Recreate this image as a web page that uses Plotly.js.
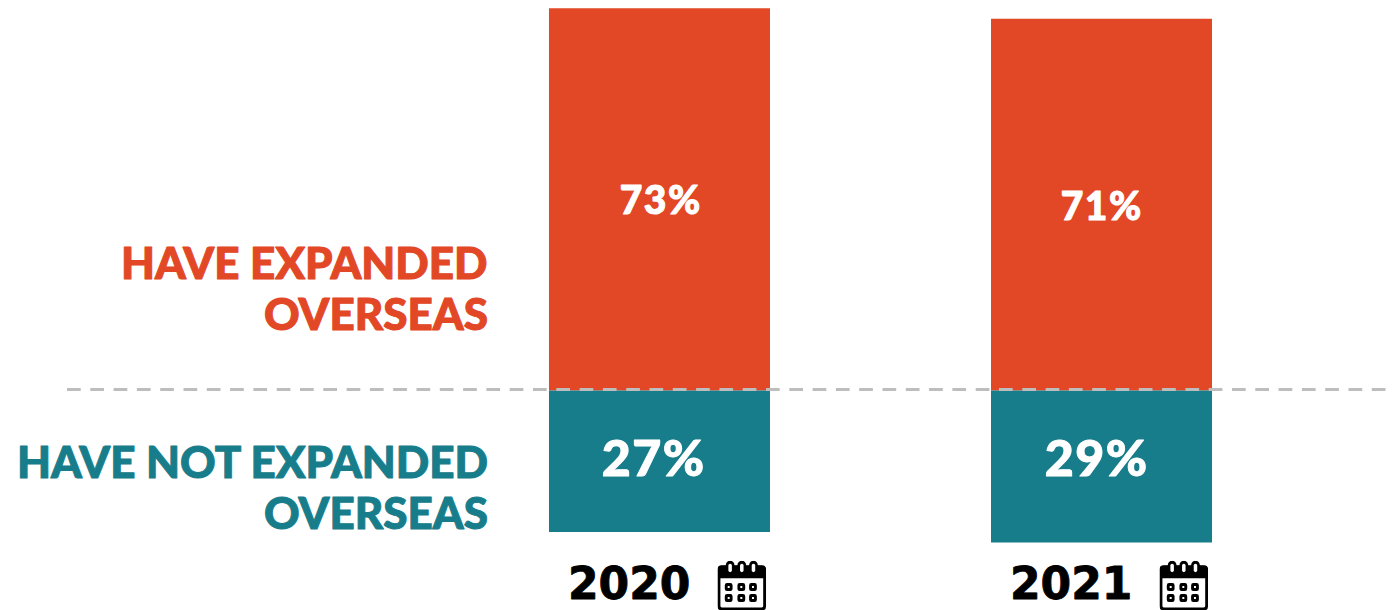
<!DOCTYPE html>
<html>
<head>
<meta charset="utf-8">
<script src="https://cdn.plot.ly/plotly-3.0.1.min.js"></script>
<style>
html,body{margin:0;padding:0;background:#fff;overflow:hidden}
/* Heavier strokes on the labels, since the installed faces stop short of black weight */
.annotation-text{stroke-linejoin:round;paint-order:stroke}
</style>
</head>
<body>
<div id="chart" style="width:1395px;height:610px"></div>
<script>
// Share of respondents per survey year
const years = ["2020", "2021"];
const expanded = [73, 71];
const notExpanded = [27, 29];
const expandedLines = ["HAVE EXPANDED", "OVERSEAS"];
const notExpandedLines = ["HAVE NOT EXPANDED", "OVERSEAS"];

const RED = "#e24726";
const TEAL = "#187d8a";
const LABEL_FONT = "Lato";

// Wall-calendar pictogram placed beside each year
const calendarSvg = `<svg xmlns="http://www.w3.org/2000/svg" viewBox="0 0 50 50">
<path d="M4.5 6 H45.5 Q48.5 6 48.5 9 V45.5 Q48.5 48.5 45.5 48.5 H4.5 Q1.5 48.5 1.5 45.5 V9 Q1.5 6 4.5 6 Z" fill="#fff" stroke="#000" stroke-width="3"/>
<path d="M4 5 H46 Q49.5 5 49.5 8.5 V17.5 H0.5 V8.5 Q0.5 5 4 5 Z" fill="#000"/>
<g fill="#000">
<rect x="8.5" y="0" width="9" height="12" rx="4.5"/>
<rect x="20.5" y="0" width="9" height="12" rx="4.5"/>
<rect x="32.5" y="0" width="9" height="12" rx="4.5"/>
</g>
<g fill="#fff">
<rect x="11.2" y="3" width="3.6" height="8.5" rx="1.8"/>
<rect x="23.2" y="3" width="3.6" height="8.5" rx="1.8"/>
<rect x="35.2" y="3" width="3.6" height="8.5" rx="1.8"/>
</g>
<g fill="none" stroke="#000" stroke-width="3">
<rect x="9" y="24" width="5" height="5" rx="0.8"/><rect x="22" y="24" width="5" height="5" rx="0.8"/><rect x="34" y="24" width="5" height="5" rx="0.8"/>
<rect x="9" y="35" width="5" height="5" rx="0.8"/><rect x="22" y="35" width="5" height="5" rx="0.8"/><rect x="34" y="35" width="5" height="5" rx="0.8"/>
</g></svg>`;
const calendarUri = "data:image/svg+xml;base64," + btoa(calendarSvg);

const valueLabel = (x, y, v, size, dx) => ({
  x, y, xref: "x", yref: "y", xshift: dx, text: v + "%", showarrow: false,
  font: {family: LABEL_FONT, size, color: "#fff", weight: 900},
  xanchor: "center", yanchor: "middle"
});

const sideLabel = (y, text, color) => ({
  xref: "paper", yref: "y", x: 490 / 1395, y, text, showarrow: false, align: "right",
  xanchor: "right", yanchor: "middle",
  font: {family: LABEL_FONT, size: 44, color, weight: 900}
});

const yearLabel = (i, dx) => ({
  x: i, y: -36.9, xref: "x", yref: "y", xshift: dx, text: years[i], showarrow: false,
  font: {family: "DejaVu Sans", size: 44, color: "#000", weight: 700},
  xanchor: "center", yanchor: "middle"
});

const traces = [
  {type: "bar", x: [0, 1], y: expanded, marker: {color: RED}, width: 0.5, hoverinfo: "skip", name: "Have expanded overseas"},
  {type: "bar", x: [0, 1], y: notExpanded.map(v => -v), marker: {color: TEAL}, width: 0.5, hoverinfo: "skip", name: "Have not expanded overseas"}
];

const layout = {
  width: 1395, height: 610,
  margin: {l: 0, r: 0, t: 0, b: 0},
  paper_bgcolor: "#fff", plot_bgcolor: "#fff",
  barmode: "relative", showlegend: false,
  xaxis: {range: [-1.492, 1.664], visible: false, fixedrange: true},
  yaxis: {range: [-41.91, 74.57], visible: false, fixedrange: true, zeroline: false},
  shapes: [{
    type: "line", xref: "paper", yref: "y", x0: 67 / 1395, x1: 1389 / 1395, y0: 0.2, y1: 0.2,
    line: {color: "#bdbdbd", width: 3, dash: "13.7px,9.6px"}, layer: "above"
  }],
  annotations: [
    valueLabel(0, 36.5, expanded[0], 39, 2),
    valueLabel(1, 35.5, expanded[1], 39, 0),
    valueLabel(0, -12.7, notExpanded[0], 50, -5.5),
    valueLabel(1, -12.7, notExpanded[1], 50, -5.5),
    sideLabel(24.57, expandedLines[0], RED),
    sideLabel(14.82, expandedLines[1], RED),
    sideLabel(-13.48, notExpandedLines[0], TEAL),
    sideLabel(-23.23, notExpandedLines[1], TEAL),
    yearLabel(0, -30),
    yearLabel(1, -31)
  ],
  images: [0, 1].map(i => ({
    source: calendarUri, xref: "x", yref: "y", x: i + 58 / 442, y: -32.5, sizex: 0.11, sizey: 9.5,
    sizing: "stretch", xanchor: "left", yanchor: "top", layer: "above"
  }))
};

Plotly.newPlot("chart", traces, layout, {displayModeBar: false, staticPlot: true}).then(() => {
  // Thicken each label by outlining it in its own fill colour; open up the percent figures
  document.querySelectorAll(".annotation-text").forEach(t => {
    const label = t.textContent;
    t.style.stroke = t.style.fill;
    t.style.strokeWidth = years.includes(label) ? "0.8px" : "1px";
    if (label.endsWith("%")) t.style.letterSpacing = "1.5px";
  });
});
</script>
</body>
</html>
